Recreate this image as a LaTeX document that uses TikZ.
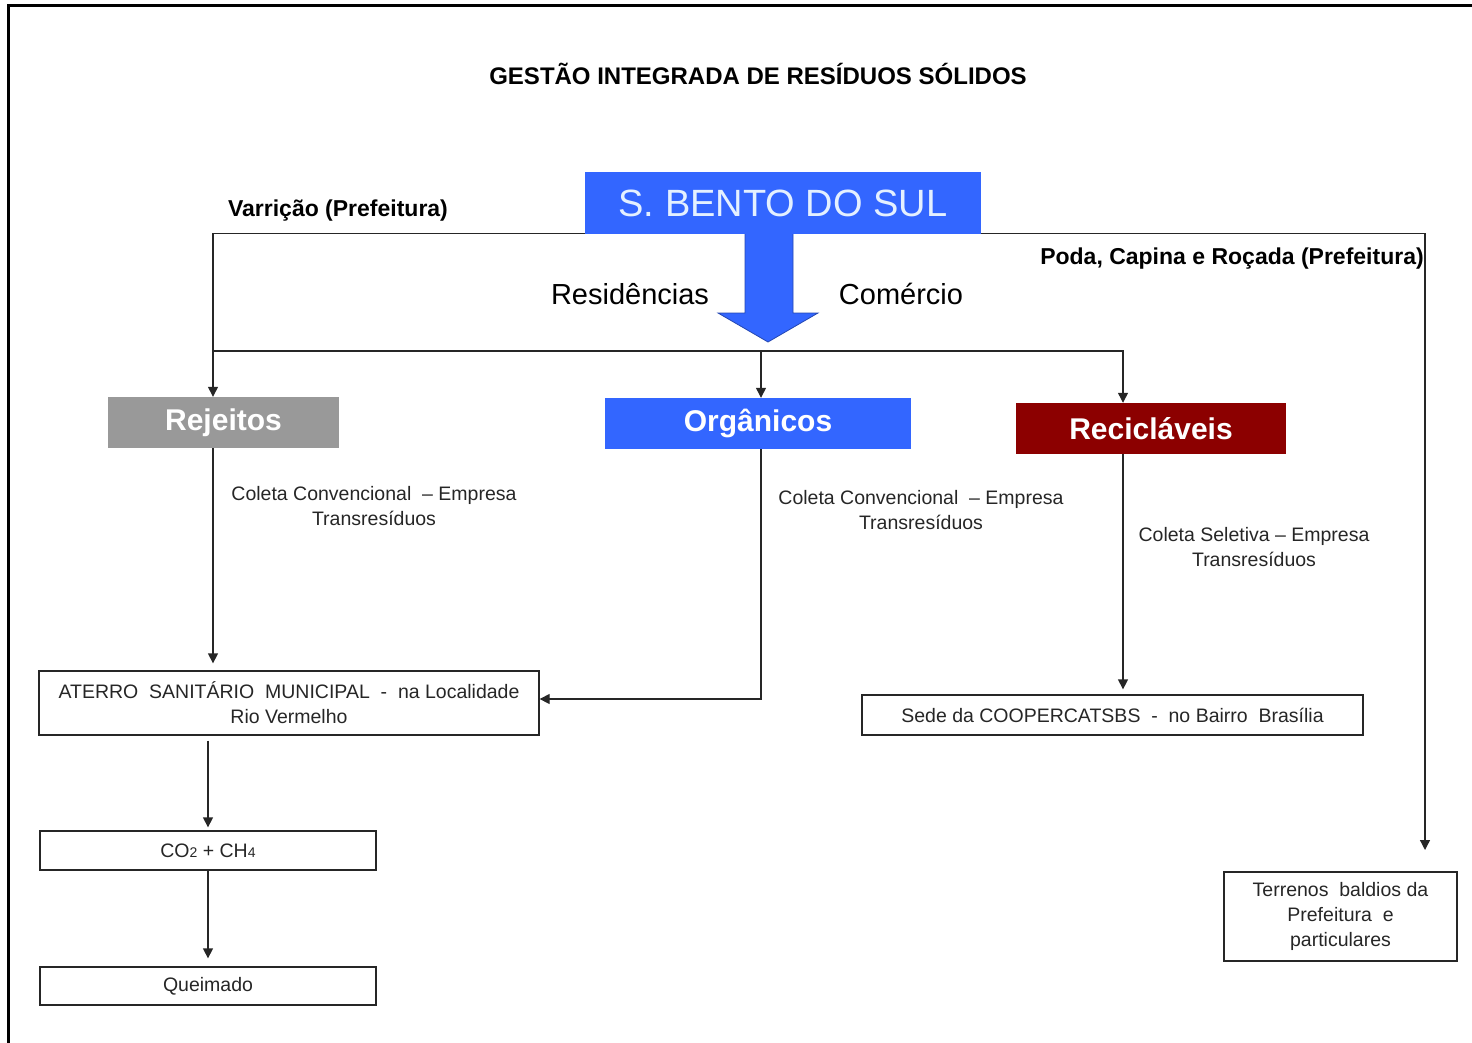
\documentclass[tikz,border=0pt]{standalone}
\usepackage{fontspec}
\setmainfont{Liberation Sans}
\usetikzlibrary{arrows.meta, positioning, calc}
\definecolor{azul}{RGB}{51,102,255}
\definecolor{brancoazul}{RGB}{228,240,255}
\definecolor{cinza}{RGB}{153,153,153}
\definecolor{vinho}{RGB}{140,0,0}
\newcommand{\indice}[1]{{\fontsize{14}{14}\selectfont #1}}
\tikzset{
  titulo/.style={font=\bfseries\fontsize{24}{28}\selectfont},
  cidade/.style={
    rectangle, minimum width=396pt, minimum height=61pt, inner sep=0pt,
    fill=azul, text=brancoazul, font=\fontsize{38}{44}\selectfont
  },
  categoria/.style={
    rectangle, minimum height=51pt, inner sep=0pt,
    text=white, font=\bfseries\fontsize{30}{34}\selectfont
  },
  destino/.style={
    rectangle, draw=black!85, line width=1.3pt, inner sep=0pt,
    align=center, font=\fontsize{19.5}{25}\selectfont, text=black!85
  },
  fonte/.style={font=\bfseries\fontsize{23}{27}\selectfont},
  origem/.style={font=\fontsize{29}{34}\selectfont},
  coleta/.style={align=center, font=\fontsize{19.5}{25}\selectfont, text=black!85},
  linha/.style={line width=1.3pt, draw=black!85},
  seta/.style={linha, -{Triangle[width=10pt,length=10pt]}}
}

\begin{document}
\begin{tikzpicture}[x=1pt, y=-1pt]
\useasboundingbox (0,0) rectangle (1472,1043);
\draw[line width=3pt] (1472,6) -- (8,6) -- (8,1043);

% titulo e municipio
\node[titulo] (titulo) at (758,74) {GESTÃO INTEGRADA DE RESÍDUOS SÓLIDOS};
\draw[fill=azul, draw=azul!70!black, line width=0.8pt]
  (745,233) -- (793,233) -- (793,313) -- (818,313) -- (768,342) -- (718,313) -- (745,313) -- cycle;
\node[cidade] (sbs) at (783,203) {S. BENTO DO SUL};

\node[fonte] (varricao) at (338,211) {Varrição (Prefeitura)};
\node[fonte] (poda) at (1232,259) {Poda, Capina e Roçada (Prefeitura)};
\node[origem] (residencias) at (630,294) {Residências};
\node[origem] (comercio) at (901,294) {Comércio};

% tipos de residuo
\node[categoria, fill=cinza, minimum width=231pt] (rejeitos) at (223.5,422.5) {Rejeitos};
\node[categoria, fill=azul, minimum width=306pt] (organicos) at (758,423.5) {Orgânicos};
\node[categoria, fill=vinho, minimum width=270pt] (reciclaveis) at (1151,428.5) {Recicláveis};

% destinos
\node[destino, minimum width=500pt, minimum height=64pt] (aterro) at (289,703)
  {ATERRO \ SANITÁRIO \ MUNICIPAL \ - \ na Localidade\\Rio Vermelho};
\node[destino, minimum width=336pt, minimum height=39pt] (gases) at (208,850.5)
  {CO\indice{2} + CH\indice{4}};
\node[destino, minimum width=336pt, minimum height=38pt] (queimado) at (208,986) {Queimado};
\node[destino, minimum width=501pt, minimum height=40pt] (sede) at (1112.5,715)
  {Sede da COOPERCATSBS \ - \ no Bairro \ Brasília};
\node[destino, minimum width=233pt, minimum height=89pt] (terrenos) at (1340.5,916.5)
  {Terrenos \ baldios da\\Prefeitura \ e\\particulares};

\node[coleta] (coletaRej) at (374,506) {Coleta Convencional \ – Empresa\\Transresíduos};
\node[coleta] (coletaOrg) at (921,510) {Coleta Convencional \ – Empresa\\Transresíduos};
\node[coleta] (coletaRec) at (1254,547) {Coleta Seletiva – Empresa\\Transresíduos};

% ligacoes
\coordinate (xrej) at (213,0);
\coordinate (xorg) at (761,0);
\coordinate (xrec) at (1123,0);
\coordinate (ramal) at (213,351);
\coordinate (podaFim) at (1425,850);
\coordinate (yaterro) at (0,699);

\draw[seta] (sbs.south west) -| (xrej |- rejeitos.north);
\draw[seta] (sbs.south east) -| (podaFim);
\draw[seta] (ramal) -| (xrec |- reciclaveis.north);
\draw[seta] (xorg |- ramal) -- (xorg |- organicos.north);
\draw[seta, shorten >=7pt] (xrej |- rejeitos.south) -- (xrej |- aterro.north);
\draw[seta] (xorg |- organicos.south) |- (aterro.east |- yaterro);
\draw[seta, shorten >=5pt] (xrec |- reciclaveis.south) -- (xrec |- sede.north);
\draw[seta, shorten <=5pt, shorten >=3pt] (aterro.south -| gases.north) -- (gases.north);
\draw[seta, shorten >=8pt] (gases.south) -- (queimado.north);
\end{tikzpicture}
\end{document}
